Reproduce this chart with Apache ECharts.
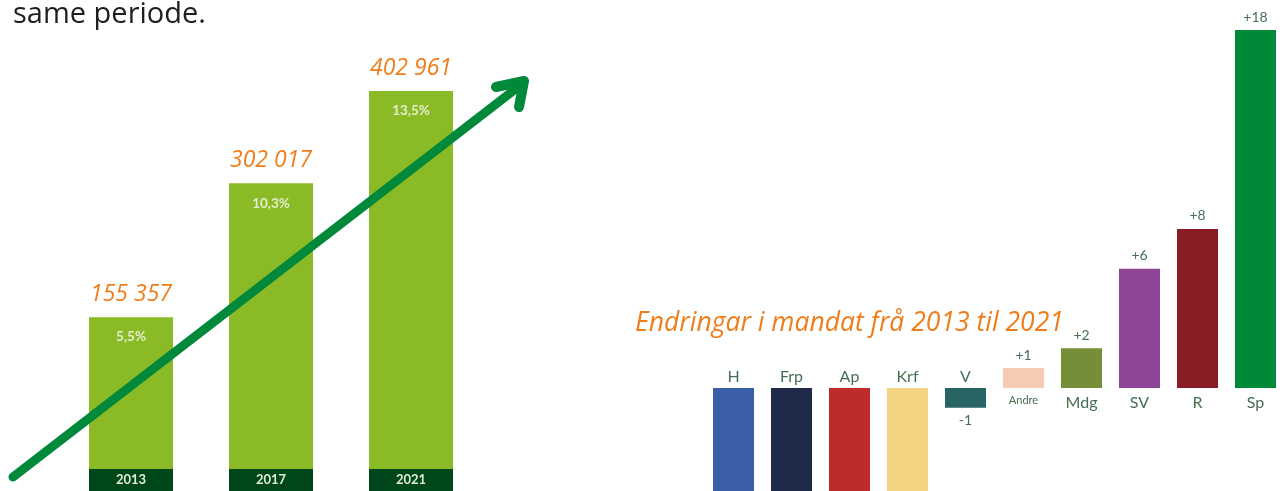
<!DOCTYPE html>
<html>
<head>
<meta charset="utf-8">
<script src="https://cdn.jsdelivr.net/npm/echarts@6/dist/echarts.min.js"></script>
<style>
html,body{margin:0;padding:0;background:#fff}
#main{width:1282px;height:491px}
</style>
</head>
<body>
<div id="main"></div>
<script>
// venstre: røyster 2013-2021
var years = ['2013', '2017', '2021'];
var votes = [155357, 302017, 402961];
var shares = ['5,5%', '10,3%', '13,5%'];

// høgre: endring i mandat
var parties = ['H', 'Frp', 'Ap', 'Krf', 'V', 'Andre', 'Mdg', 'SV', 'R', 'Sp'];
var seatChange = [-12, -8, -7, -7, -1, 1, 2, 6, 8, 18];
var partyColors = ['#3a5fa8', '#1f2a4b', '#bd2b2b', '#f3d37f', '#296464', '#f6cbb4', '#748f38', '#8d4595', '#8a1c26', '#008a38'];

var labelGreen = '#466f52';
var orange = '#f07d1c';

var fmtNum = function (v) {
    return String(v).replace(/\B(?=(\d{3})+(?!\d))/g, ' ');
};

var option = {
    animation: false,
    backgroundColor: '#fff',
    title: [{
        text: 'same periode.',
        left: 8, top: -5,
        textStyle: {fontSize: 29, fontWeight: 'normal', color: '#1e1e1e', fontFamily: 'Open Sans'}
    }, {
        text: 'Endringar i mandat frå 2013 til 2021',
        left: 630, top: 305,
        textStyle: {fontSize: 26.5, fontWeight: 'normal', fontStyle: 'italic', color: orange, fontFamily: 'Open Sans'}
    }],
    grid: [
        {left: 61, width: 420, top: 48, bottom: 0, outerBoundsMode: 'none'},
        {left: 704.5, width: 580, top: 30, height: 636.4, outerBoundsMode: 'none'}
    ],
    xAxis: [{
        type: 'category', gridIndex: 0, data: years, z: 10,
        axisLine: {show: false, onZero: false}, axisTick: {show: false},
        axisLabel: {
            inside: true, margin: 0, interval: 0,
            backgroundColor: '#00461b', width: 84, height: 22, lineHeight: 22,
            align: 'center', verticalAlign: 'bottom',
            color: '#e2ecd2', fontWeight: 'bold', fontSize: 13, fontFamily: 'Lato'
        }
    }, {
        type: 'category', gridIndex: 1, data: parties,
        axisLine: {show: false}, axisTick: {show: false}, axisLabel: {show: false}
    }],
    yAxis: [{
        type: 'value', gridIndex: 0, min: -35000, max: 450000, startValue: -35000, show: false
    }, {
        type: 'value', gridIndex: 1, min: -14, max: 18, show: false
    }],
    series: [{
        type: 'bar', xAxisIndex: 0, yAxisIndex: 0, barWidth: 84,
        data: votes,
        itemStyle: {color: '#8aba26'},
        label: {
            show: true, position: 'top', distance: 11,
            formatter: function (p) { return fmtNum(p.value); },
            color: orange, fontSize: 23, fontStyle: 'italic', fontFamily: 'Open Sans'
        }
    }, {
        type: 'bar', xAxisIndex: 0, yAxisIndex: 0, barWidth: 84, barGap: '-100%',
        data: votes, silent: true,
        itemStyle: {color: 'rgba(0,0,0,0)'},
        label: {
            show: true, position: 'insideTop', distance: 13,
            formatter: function (p) { return shares[p.dataIndex]; },
            color: '#e3eecf', fontSize: 13.5, fontWeight: 'bold', fontFamily: 'Lato'
        }
    }, {
        // mandatendring med talet på utsida
        type: 'bar', xAxisIndex: 1, yAxisIndex: 1, barWidth: 41,
        data: seatChange.map(function (v, i) {
            return {
                value: v,
                itemStyle: {color: partyColors[i]},
                label: {position: v > 0 ? 'top' : 'bottom'}
            };
        }),
        label: {
            show: true, distance: 6,
            formatter: function (p) { return (p.value > 0 ? '+' : '') + p.value; },
            color: labelGreen, fontSize: 14, fontFamily: 'Lato'
        }
    }, {
        // partinamn ved nulllinja
        type: 'bar', xAxisIndex: 1, yAxisIndex: 1, barWidth: 41, barGap: '-100%',
        silent: true,
        data: seatChange.map(function (v, i) {
            var lb = {position: v > 0 ? 'bottom' : 'top', distance: v > 0 ? 5 : 1};
            if (parties[i] === 'Andre') {
                lb.fontSize = 11;
                lb.lineHeight = 14;
            }
            return {value: v, label: lb};
        }),
        itemStyle: {color: 'rgba(0,0,0,0)'},
        label: {
            show: true, formatter: '{b}',
            color: labelGreen, fontSize: 16, lineHeight: 20, fontFamily: 'Lato'
        }
    }],
    graphic: [{
        type: 'line', z: 100,
        shape: {x1: 13, y1: 477, x2: 522, y2: 84},
        style: {stroke: '#00893a', lineWidth: 9, lineCap: 'round'}
    }, {
        type: 'polyline', z: 100,
        shape: {points: [[496, 87], [524, 81], [519, 107]]},
        style: {stroke: '#00893a', fill: null, lineWidth: 10, lineCap: 'round', lineJoin: 'round'}
    }]
};

var mainChart = echarts.init(document.getElementById('main'));
mainChart.setOption(option);
</script>
</body>
</html>
